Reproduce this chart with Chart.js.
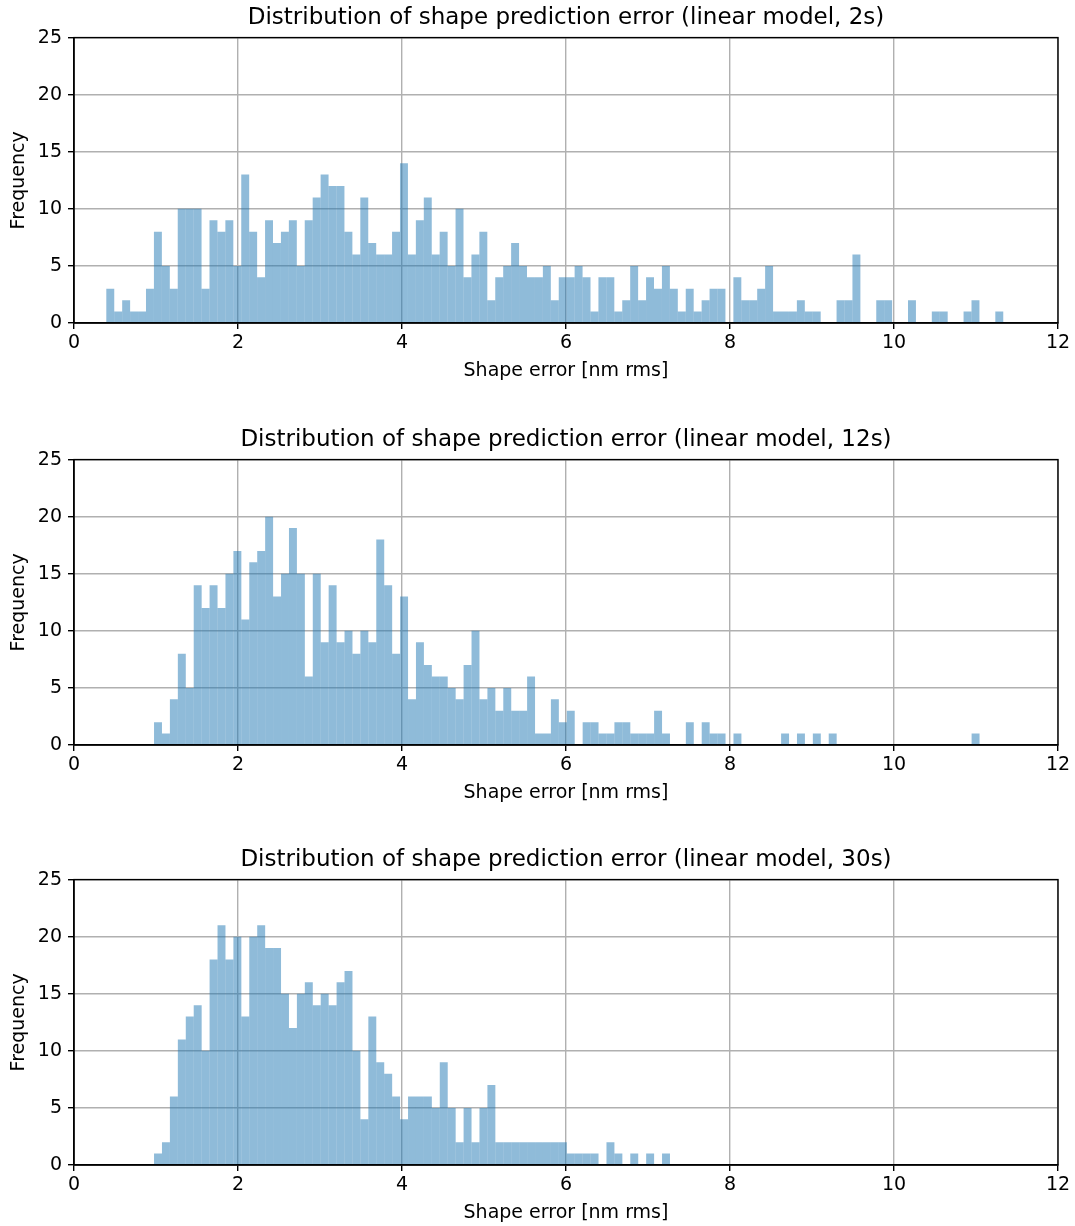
<!DOCTYPE html>
<html>
<head>
<meta charset="utf-8">
<script src="https://cdn.jsdelivr.net/npm/chart.js@4/dist/chart.umd.min.js"></script>
<style>
  html, body { margin: 0; padding: 0; background: #fff; overflow: hidden; }
  canvas { position: absolute; left: 0; }
</style>
</head>
<body>
<canvas id="chart2s" width="1075" height="384" style="top:0px"></canvas>
<canvas id="chart12s" width="1075" height="384" style="top:422px"></canvas>
<canvas id="chart30s" width="1075" height="384" style="top:842px"></canvas>
<script>
// Histogram data (counts per bin, fixed bin width)
const binWidth = 0.0968;

const titles = [
  'Distribution of shape prediction error (linear model, 2s)',
  'Distribution of shape prediction error (linear model, 12s)',
  'Distribution of shape prediction error (linear model, 30s)'
];

const start2s = 0.394;
const counts2s = [
  3, 1, 2, 1, 1, 3, 8, 5, 3, 10, 10, 10, 3, 9, 8, 9, 5, 13, 8, 4, 9, 7, 8, 9, 5, 9, 11, 13, 12, 12, 8, 6, 11, 7, 6, 6, 8,
  14, 6, 9, 11, 6, 8, 5, 10, 4, 6, 8, 2, 4, 5, 7, 5, 4, 4, 5, 2, 4, 4, 5, 4, 1, 4, 4, 1, 2, 5, 2, 4, 3, 5, 3, 1, 3, 1, 2, 3, 3,
  0, 4, 2, 2, 3, 5, 1, 1, 1, 2, 1, 1, 0, 0, 2, 2, 6, 0, 0, 2, 2, 0, 0, 2, 0, 0, 1, 1, 0, 0, 1, 2, 0, 0, 1
];

const start12s = 0.976;
const counts12s = [
  2, 1, 4, 8, 5, 14, 12, 14, 12, 15, 17, 11, 16, 17, 20, 13, 15, 19, 15, 6, 15, 9, 14, 9, 10, 8, 10, 9, 18, 14, 8, 13, 4, 9, 7, 6,
  6, 5, 4, 7, 10, 4, 5, 3, 5, 3, 3, 6, 1, 1, 4, 2, 3, 0, 2, 2, 1, 1, 2, 2, 1, 1, 1, 3, 1, 0, 0, 2, 0, 2, 1, 1, 0, 1,
  0, 0, 0, 0, 0, 1, 0, 1, 0, 1, 0, 1, 0, 0, 0, 0, 0, 0, 0, 0, 0, 0, 0, 0, 0, 0, 0, 0, 0, 1
];

const start30s = 0.976;
const counts30s = [
  1, 2, 6, 11, 13, 14, 10, 18, 21, 18, 20, 13, 20, 21, 19, 19, 15, 12, 15, 16, 14, 15, 14, 16, 17, 10, 4, 13, 9,
  8, 6, 4, 6, 6, 6, 5, 9, 5, 2, 5, 2, 5, 7,
  2, 2, 2, 2, 2, 2, 2, 2, 2,
  1, 1, 1, 1, 0, 2, 1, 0, 1, 0, 1, 0, 1
];

const xMin = 0, xMax = 12, xStep = 2;
const yMin = 0, yMax = 25, yStep = 5;

Chart.defaults.font.family = "'DejaVu Sans', sans-serif";
Chart.defaults.color = '#000';

// draws the top/right spines (matplotlib style box)
const frameBox = {
  id: 'frameBox',
  afterDatasetsDraw(chart) {
    const { ctx, chartArea: a } = chart;
    ctx.save();
    ctx.strokeStyle = '#000';
    ctx.lineWidth = 1.4;
    ctx.strokeRect(a.left, a.top, a.right - a.left, a.bottom - a.top);
    ctx.restore();
  }
};

function makeHist(id, title, start, counts) {
  const points = counts.map((c, i) => ({ x: start + (i + 0.5) * binWidth, y: c }));
  new Chart(document.getElementById(id), {
    type: 'bar',
    data: {
      datasets: [{
        data: points,
        backgroundColor: 'rgba(31,119,180,0.5)',
        borderWidth: 0,
        barPercentage: 1,
        categoryPercentage: 1,
        inflateAmount: 0
      }]
    },
    options: {
      responsive: false,
      animation: false,
      layout: { padding: { left: 0, right: 17, top: 0, bottom: 0 } },
      plugins: {
        legend: { display: false },
        tooltip: { enabled: false },
        title: {
          display: true,
          fullSize: false,
          text: title,
          font: { size: 23, weight: 'normal' },
          padding: { top: 4, bottom: 6 }
        }
      },
      scales: {
        x: {
          type: 'linear',
          min: xMin, max: xMax,
          offset: false,
          afterFit(scale) { scale.height = 61; },
          ticks: { stepSize: xStep, font: { size: 19 }, padding: 3, maxRotation: 0 },
          grid: { offset: false, color: '#b0b0b0', lineWidth: 1.4, tickColor: '#000', tickLength: 6, tickWidth: 1.4 },
          border: { color: '#000', width: 1.4 },
          title: { display: true, text: 'Shape error [nm rms]', font: { size: 19 }, padding: { top: 0, bottom: 2 } }
        },
        y: {
          min: yMin, max: yMax,
          afterFit(scale) { scale.width = 74; },
          ticks: { stepSize: yStep, font: { size: 19 }, padding: 6 },
          grid: { color: '#b0b0b0', lineWidth: 1.4, tickColor: '#000', tickLength: 6, tickWidth: 1.4 },
          border: { color: '#000', width: 1.4 },
          title: { display: true, text: 'Frequency', font: { size: 19 }, padding: { top: 8, bottom: 0 } }
        }
      }
    },
    plugins: [frameBox]
  });
}

makeHist('chart2s', titles[0], start2s, counts2s);
makeHist('chart12s', titles[1], start12s, counts12s);
makeHist('chart30s', titles[2], start30s, counts30s);
</script>
</body>
</html>
